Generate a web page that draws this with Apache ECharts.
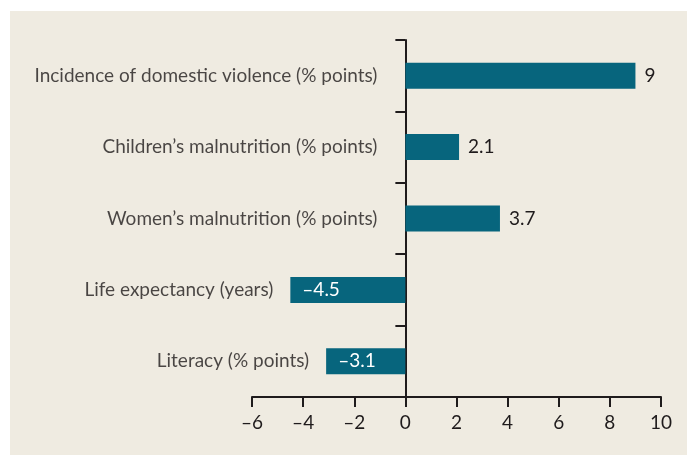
<!DOCTYPE html>
<html><head><meta charset="utf-8">
<script src="https://cdn.jsdelivr.net/npm/echarts@6/dist/echarts.min.js"></script>
<style>html,body{margin:0;padding:0;background:#fff}#c{width:687px;height:455px}</style>
</head><body><div id="c"></div>
<script>
const categories = [
  "Incidence of domestic violence (% points)",
  "Children\u2019s malnutrition (% points)",
  "Women\u2019s malnutrition (% points)",
  "Life expectancy (years)",
  "Literacy (% points)"
];
const values = [9, 2.1, 3.7, -4.5, -3.1];
const xTicks = [-6, -4, -2, 0, 2, 4, 6, 8, 10];

const FONT = 'Lato';
const INK = '#1f1b1c';
const BAR = '#07657d';
const fmt = v => (v < 0 ? '\u2013' + Math.abs(v) : String(v));

const chart = echarts.init(document.getElementById('c'), null, {renderer: 'canvas'});
chart.setOption({
  animation: false,
  backgroundColor: '#ffffff',
  graphic: [{type: 'rect', left: 10, top: 11, shape: {width: 677, height: 444}, style: {fill: '#efebe1'}, z: -10}],
  grid: {left: 252, right: 26, top: 40, bottom: 58, containLabel: false},
  xAxis: {
    type: 'value', min: xTicks[0], max: xTicks[xTicks.length - 1], interval: 2,
    axisLine: {show: true, lineStyle: {color: INK, width: 2}},
    axisTick: {show: true, length: 10, lineStyle: {color: INK, width: 2}},
    splitLine: {show: false},
    axisLabel: {margin: 16, color: INK, fontFamily: FONT, fontSize: 19, formatter: fmt}
  },
  yAxis: {
    type: 'category', data: categories, inverse: true,
    axisLine: {show: true, onZero: true, lineStyle: {color: INK, width: 2}},
    axisTick: {show: true, length: 10, inside: false, lineStyle: {color: INK, width: 2}},
    axisLabel: {show: false},
    splitLine: {show: false}
  },
  series: [
    {
      type: 'bar', data: values.map(v => ({value: v, label: v < 0
        ? {position: 'insideLeft', distance: 12, color: '#ffffff'}
        : {position: 'right', distance: 9, color: INK}})),
      barWidth: 26, itemStyle: {color: BAR},
      label: {show: true, fontFamily: FONT, fontSize: 19, formatter: p => fmt(p.value)}
    },
    {
      type: 'scatter', symbolSize: 0, silent: true,
      data: values.map((v, i) => ({value: [Math.min(v, 0), i], name: categories[i],
        label: {distance: v < 0 ? 17 : 28}})),
      label: {show: true, position: 'left', color: INK, fontFamily: FONT, fontSize: 19,
        formatter: p => p.name}
    }
  ]
});
</script></body></html>
